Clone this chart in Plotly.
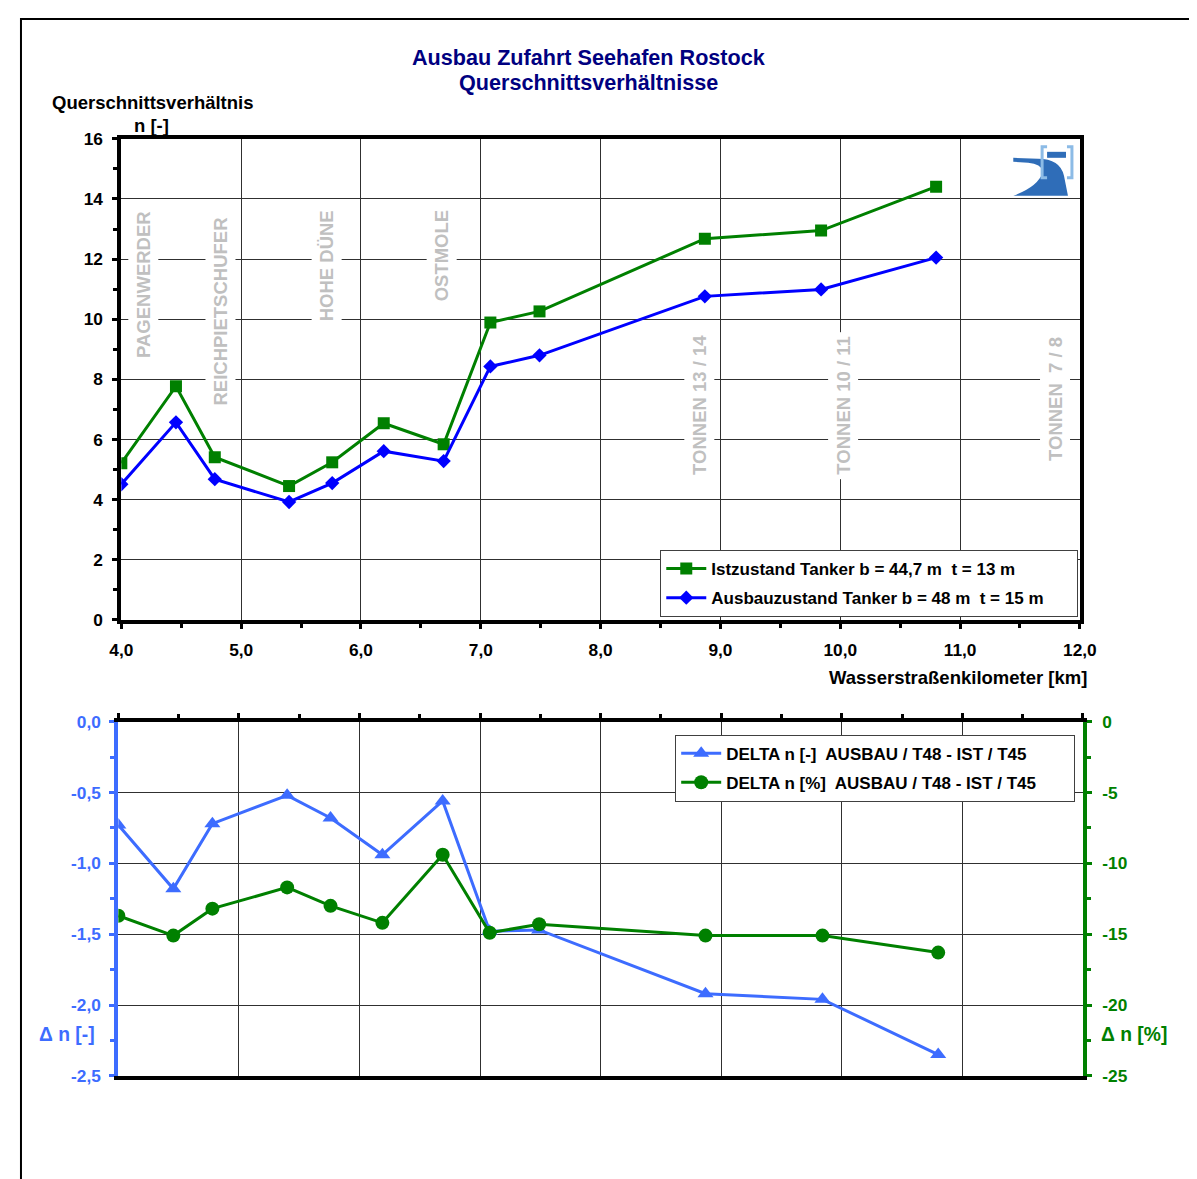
import plotly.graph_objects as go

WF, HF = 1197, 1179
# empirical mapping of figure pixels to the photographed page
AX, BX = 0.9813, 16.1
AY, BY = 0.9851, 16.9
K = 1 / 0.983

# ---------------- data ----------------
km = [4.0, 4.456, 4.78, 5.40, 5.76, 6.19, 6.69, 7.08, 7.49, 8.87, 9.84, 10.80]
n_ist = [5.21, 7.77, 5.41, 4.45, 5.24, 6.54, 5.84, 9.89, 10.26, 12.68, 12.95, 14.41]
n_ausbau = [4.51, 6.57, 4.68, 3.92, 4.55, 5.61, 5.28, 8.43, 8.80, 10.76, 10.99, 12.05]
delta_abs = [-0.73, -1.18, -0.72, -0.52, -0.68, -0.94, -0.56, -1.48, -1.47, -1.92, -1.96, -2.35]
delta_pct = [-13.7, -15.1, -13.2, -11.7, -13.0, -14.2, -9.4, -14.9, -14.3, -15.1, -15.1, -16.3]

PAD1 = "\u00a0" * 6
PAD2 = "\u00a0" * 7
name_ist = "Istzustand Tanker b = 44,7 m\u00a0 t = 13 m" + PAD1
name_ausbau = "Ausbauzustand Tanker b = 48 m\u00a0 t = 15 m" + PAD1
name_dabs = "DELTA n [-]\u00a0 AUSBAU / T48 - IST / T45" + PAD2
name_dpct = "DELTA n [%]\u00a0 AUSBAU / T48 - IST / T45" + PAD2

top_landmarks = ["PAGENWERDER", "REICHPIETSCHUFER", "HOHE DÜNE", "OSTMOLE"]
top_landmark_km = [4.18, 4.83, 5.71, 6.67]
top_landmark_y = [13.78, 13.54, 13.78, 13.78]
buoy_landmarks = ["TONNEN 13 / 14", "TONNEN 10 / 11", "TONNEN\u00a0 7 / 8"]
buoy_landmark_km = [8.82, 10.02, 11.79]
buoy_landmark_y = [4.65, 4.65, 5.11]

x_ticks = [4, 5, 6, 7, 8, 9, 10, 11, 12]
y_ticks = [0, 2, 4, 6, 8, 10, 12, 14, 16]
d_abs_ticks = [0.0, -0.5, -1.0, -1.5, -2.0, -2.5]
d_abs_labels = ["0,0", "-0,5", "-1,0", "-1,5", "-2,0", "-2,5"]
d_pct_ticks = [0, -5, -10, -15, -20, -25]
d_pct_labels = ["0", "-5", "-10", "-15", "-20", "-25"]

# ---------------- styling ----------------
FONT = "Liberation Sans, Arial, sans-serif"
GREEN = "#008000"
BLUE = "#0000FF"
LBLUE = "#3D6CFF"
NAVY = "#000080"
GRID = "#303030"


def fx(s):
    return ((s - BX) / AX) / WF


def fy(s):
    return 1 - ((s - BY) / AY) / HF


def fs(v):
    return round(v * K, 1)


fig = go.Figure()

fig.add_trace(go.Scatter(
    x=km, y=n_ist, name=name_ist, mode="lines+markers",
    line=dict(color=GREEN, width=3),
    marker=dict(symbol="square", size=12, color=GREEN),
    xaxis="x", yaxis="y", legend="legend", legendgroup="g1"))
fig.add_trace(go.Scatter(
    x=km, y=n_ausbau, name=name_ausbau, mode="lines+markers",
    line=dict(color=BLUE, width=3),
    marker=dict(symbol="diamond", size=11, color=BLUE),
    xaxis="x", yaxis="y", legend="legend", legendgroup="g2"))
fig.add_trace(go.Scatter(
    x=km, y=delta_abs, name=name_dabs, mode="lines+markers",
    line=dict(color=LBLUE, width=3),
    marker=dict(symbol="triangle-up", size=14, color=LBLUE),
    xaxis="x2", yaxis="y2", legend="legend2", legendgroup="g3"))
fig.add_trace(go.Scatter(
    x=km, y=delta_pct, name=name_dpct, mode="lines+markers",
    line=dict(color=GREEN, width=3),
    marker=dict(symbol="circle", size=14, color=GREEN),
    xaxis="x2", yaxis="y3", legend="legend2", legendgroup="g4"))

TICKSIZE = fs(17)
LEGSIZE = fs(16.7)
tickfont_black = dict(family=FONT, size=TICKSIZE, color="black", weight="bold")

fig.update_layout(
    width=WF, height=HF,
    margin=dict(l=0, r=0, t=0, b=0),
    paper_bgcolor="white", plot_bgcolor="white",
    separators=",.",
    font=dict(family=FONT, size=16, color="black"),
    xaxis=dict(
        domain=[fx(118), fx(1082)], anchor="y", range=[4, 12],
        tickvals=x_ticks, tickformat=".1f",
        showline=True, linecolor="black", linewidth=4, mirror=True,
        ticks="outside", ticklen=5, tickwidth=3, tickcolor="black",
        minor=dict(dtick=0.5, tick0=4, ticks="outside", ticklen=4, tickwidth=3, tickcolor="black", showgrid=False),
        showgrid=True, gridcolor=GRID, gridwidth=1,
        zeroline=False, tickfont=tickfont_black, ticklabelstandoff=6,
    ),
    yaxis=dict(
        domain=[fy(620), fy(138)], anchor="x", range=[0, 16],
        tickvals=y_ticks,
        showline=True, linecolor="black", linewidth=4, mirror=True,
        ticks="outside", ticklen=5, tickwidth=3, tickcolor="black",
        minor=dict(dtick=1, tick0=0, ticks="outside", ticklen=4, tickwidth=3, tickcolor="black", showgrid=False),
        showgrid=True, gridcolor=GRID, gridwidth=1,
        zeroline=False, tickfont=tickfont_black, ticklabelstandoff=6,
    ),
    xaxis2=dict(
        domain=[fx(115), fx(1085)], anchor="y2", range=[4, 12], side="top",
        tickvals=x_ticks, showticklabels=False,
        showline=True, linecolor="black", linewidth=4, mirror=True,
        ticks="outside", ticklen=5, tickwidth=3, tickcolor="black",
        minor=dict(dtick=0.5, tick0=4, ticks="outside", ticklen=4, tickwidth=3, tickcolor="black", showgrid=False),
        showgrid=True, gridcolor=GRID, gridwidth=1, zeroline=False,
    ),
    yaxis2=dict(
        domain=[fy(1077), fy(722)], anchor="x2", range=[-2.5, 0],
        tickvals=d_abs_ticks, ticktext=d_abs_labels,
        showline=True, linecolor=LBLUE, linewidth=4,
        ticks="outside", ticklen=5, tickwidth=3, tickcolor=LBLUE,
        minor=dict(dtick=0.25, tick0=0, ticks="outside", ticklen=4, tickwidth=3, tickcolor=LBLUE, showgrid=False),
        showgrid=True, gridcolor=GRID, gridwidth=1, zeroline=False,
        tickfont=dict(family=FONT, size=TICKSIZE, color=LBLUE, weight="bold"), ticklabelstandoff=5,
    ),
    yaxis3=dict(
        overlaying="y2", anchor="x2", side="right", range=[-25, 0],
        tickvals=d_pct_ticks, ticktext=d_pct_labels,
        showline=True, linecolor=GREEN, linewidth=4,
        ticks="outside", ticklen=5, tickwidth=3, tickcolor=GREEN,
        minor=dict(dtick=2.5, tick0=0, ticks="outside", ticklen=4, tickwidth=3, tickcolor=GREEN, showgrid=False),
        showgrid=False, zeroline=False,
        tickfont=dict(family=FONT, size=TICKSIZE, color=GREEN, weight="bold"), ticklabelstandoff=7,
    ),
    legend=dict(
        x=fx(660), y=fy(550), xanchor="left", yanchor="top",
        bgcolor="white", bordercolor="#404040", borderwidth=1,
        font=dict(family=FONT, size=LEGSIZE, color="black", weight="bold"),
        itemwidth=40, tracegroupgap=4, traceorder="grouped",
    ),
    legend2=dict(
        x=fx(675), y=fy(735), xanchor="left", yanchor="top",
        bgcolor="white", bordercolor="#404040", borderwidth=1,
        font=dict(family=FONT, size=LEGSIZE, color="black", weight="bold"),
        itemwidth=40, tracegroupgap=4, traceorder="grouped",
    ),
    showlegend=True,
)

ann = []


def text_px(x, y, t, size=16, color="black", xanchor="center", yanchor="middle"):
    ann.append(dict(x=fx(x), y=fy(y), xref="paper", yref="paper", text=t, showarrow=False,
                    xanchor=xanchor, yanchor=yanchor,
                    font=dict(family=FONT, size=fs(size), color=color, weight="bold")))


text_px(588, 56, "Ausbau Zufahrt Seehafen Rostock", size=21.2, color=NAVY)
text_px(588, 82, "Querschnittsverhältnisse", size=21.2, color=NAVY)
text_px(46, 102, "Querschnittsverhältnis", size=18.2, xanchor="left")
text_px(129, 125, "n [-]", size=18.2, xanchor="left")
text_px(1091, 678, "Wasserstraßenkilometer [km]", size=18.2, xanchor="right")
text_px(63, 1036, "Δ n [-]", size=19, color=LBLUE)
text_px(1136, 1036, "Δ n [%]", size=19, color=GREEN)

for lbl, xk, yv in zip(top_landmarks, top_landmark_km, top_landmark_y):
    ann.append(dict(x=xk, y=yv, xref="x", yref="y", text=lbl, showarrow=False, textangle=-90,
                    xanchor="center", yanchor="top", bgcolor="white", borderpad=4,
                    font=dict(family=FONT, size=fs(18.2), color="#C0C0C0", weight="bold")))
for lbl, xk, yv in zip(buoy_landmarks, buoy_landmark_km, buoy_landmark_y):
    ann.append(dict(x=xk, y=yv, xref="x", yref="y", text=lbl, showarrow=False, textangle=-90,
                    xanchor="center", yanchor="bottom", bgcolor="white", borderpad=4,
                    font=dict(family=FONT, size=fs(18.2), color="#C0C0C0", weight="bold")))

fig.update_layout(annotations=ann)


def path_px(cmds):
    out = []
    for c in cmds:
        if isinstance(c, str):
            out.append(c)
        else:
            out.append(f"{fx(c[0]):.5f},{fy(c[1]):.5f}")
    return " ".join(out)


shapes = [
    # outer frame (as close to the top-left corner as the page allows)
    dict(type="rect", xref="paper", yref="paper", x0=1.0 / WF, y0=1 - 1.0 / HF, x1=1.05, y1=-0.05,
         line=dict(color="black", width=2), layer="below"),
    # logo: swoosh
    dict(type="path", xref="paper", yref="paper",
         path=path_px(["M", (1015, 157), "L", (1040, 158), "Q", (1062, 158), (1066, 175),
                       "L", (1070, 195), "L", (1015, 195), "Q", (1040, 186), (1045, 171),
                       "Q", (1043, 163), (1030, 162), "L", (1015, 161), "Z"]),
         fillcolor="#2F6DB8", line=dict(width=0)),
    # logo: brackets
    dict(type="path", xref="paper", yref="paper",
         path=path_px(["M", (1049, 146), "L", (1044, 146), "L", (1044, 177), "L", (1049, 177)]),
         line=dict(color="#8CBBE6", width=3)),
    dict(type="path", xref="paper", yref="paper",
         path=path_px(["M", (1069, 146), "L", (1074, 146), "L", (1074, 177), "L", (1069, 177)]),
         line=dict(color="#8CBBE6", width=3)),
    dict(type="rect", xref="paper", yref="paper", x0=fx(1049), y0=fy(151), x1=fx(1068), y1=fy(157),
         fillcolor="#2F6DB8", line=dict(width=0)),
]
fig.update_layout(shapes=shapes)

fig.write_html("out.html")
